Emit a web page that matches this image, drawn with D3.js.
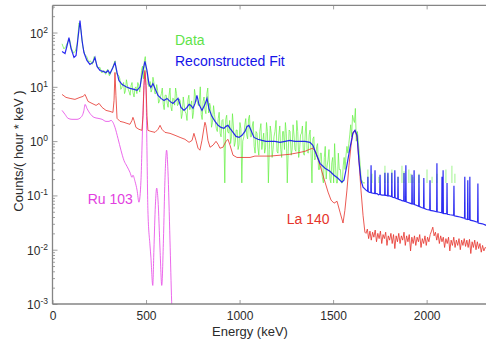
<!DOCTYPE html>
<html><head><meta charset="utf-8">
<script src="https://cdn.jsdelivr.net/npm/d3@7/dist/d3.min.js"></script>
<style>
body{margin:0;background:#fff;}
svg{display:block;font-family:"Liberation Sans",Arial,Helvetica,sans-serif;}
</style>
</head><body>
<svg id="chart" width="486" height="344"></svg>
<script>
// ---------------- DATA ----------------
// Measured spectrum (Data), energies in keV, counts/(hour*keV)
const dataE = [51,61,71,81,91,102,112,122,132,142,
152,162,172,183,193,203,213,223,233,243,
253,264,274,284,294,304,314,324,334,344,
355,365,375,385,395,405,415,425,436,446,
456,466,476,486,496,506,517,527,537,547,
557,567,577,587,597,608,618,628,638,648,
658,668,678,689,699,709,719,729,739,749,
759,770,780,790,800,810,820,830,840,850,
861,871,881,891,901,911,921,931,942,952,
962,972,982,992,1002,1012,1023,1033,1043,1053,
1063,1073,1083,1093,1103,1114,1124,1134,1144,1154,
1164,1174,1184,1195,1205,1215,1225,1235,1245,1255,
1265,1276,1286,1296,1306,1316,1326,1336,1346,1356,
1367,1377,1387,1397,1407,1417,1427,1437,1448,1458,
1468,1478,1488,1498,1508,1518,1528,1539,1549,1559,
1569,1579,1589,1599,1609,1619,1630,1640,1650,1660,
1670];
const dataV = [62,50,55,66,75,50,42,45,62,150,
110,55,40,36,29,30,26,36,28,22,
23,18,20,17,21,16,19,24,30,17,
16,9,11,7.5,13.5,9,7,12,6.5,10,
12,8,20,14,36,18,10,8,15,7.5,
11,5,6.5,9.5,3.8,7,4.2,9.5,3.6,6,
9.5,4.5,6,2.6,6.5,3.5,2.4,7,4.5,2.6,
9,5.5,4.5,10,2.5,6.5,3.2,9.5,5,1.8,
4.5,2.2,1.5,3.4,1.2,2.5,0.17,3.0,1.4,0.9,
3.2,0.8,1.6,0.7,2.2,0.17,1.2,2.6,1.1,3.0,
1.2,2.3,0.6,1.4,0.55,2.1,1.0,0.6,2.2,0.17,
1.9,0.5,1.2,2.4,0.6,1.9,0.5,1.5,2.2,0.17,
1.6,0.55,2.0,0.7,2.4,0.5,1.3,1.9,0.55,2.3,
0.6,1.6,0.17,1.2,0.5,0.9,0.3,0.6,0.17,0.8,
0.35,0.7,0.17,0.5,0.9,0.17,0.6,0.3,0.17,0.5,
0.55,0.6,1.3,1.2,2.5,4.0,1.5,0.6,0.2,0.17,
0.17];
// Intermediate data bins (355-1625 keV)
const dataE2 = [360,370,380,390,400,410,420,430,441,451,
461,471,481,491,501,511,522,532,542,552,
562,572,582,592,602,613,623,633,643,653,
663,673,683,694,704,714,724,734,744,754,
764,775,785,795,805,815,825,835,845,855,
866,876,886,896,906,916,926,936,947,957,
967,977,987,997,1007,1017,1028,1038,1048,1058,
1068,1078,1088,1098,1108,1119,1129,1139,1149,1159,
1169,1179,1189,1200,1210,1220,1230,1240,1250,1260,
1270,1281,1291,1301,1311,1321,1331,1341,1351,1361,
1372,1382,1392,1402,1412,1422,1432,1442,1453,1463,
1473,1483,1493,1503,1513,1523,1533,1544,1554,1564,
1574,1584,1594,1604,1614,1624];
const dataV2 = [14,9.5,12,8.5,11,8,10.5,7.8,9.5,7.5,
10.5,11,24,30,20,11,12.5,9,12,7.5,
8.5,5.5,7.5,4.8,7,5,7,4.3,6.2,4.6,
7.5,4.8,5.5,3.2,4.6,3.2,5.8,3.8,5.5,3.4,
6.8,5.2,5.8,3.1,5.4,3.8,7.5,3.3,4.3,2.2,
3.1,1.7,2.6,1.4,2.4,1.3,2.5,1.5,2.4,1.2,
1.9,0.95,1.6,0.85,1.7,1.0,2.0,1.3,2.6,1.2,
1.9,0.8,1.5,0.75,1.5,0.7,1.4,0.75,1.5,0.7,
1.4,0.7,1.5,0.65,1.3,0.7,1.5,0.7,1.4,0.65,
1.5,0.7,1.3,0.65,1.5,0.7,1.4,0.6,1.4,0.65,
1.3,0.6,1.1,0.45,0.8,0.3,0.6,0.22,0.5,0.2,
0.45,0.2,0.4,0.17,0.35,0.17,0.3,0.17,0.35,0.3,
0.8,0.9,2.0,3.0,2.2,1.0];
// Isolated single-count bins of the data above 1650 keV (floor 0.17)
const dataFloor = 0.17;
const dataSpikeE = [1686,1708,1745,1777,1793,1814,1847,1868,1879,1905,1916,1927,1959,2002,2029,2055,2103,2135,2151];
const dataSpikeV = [0.30,0.25,0.22,0.35,0.25,0.30,0.22,0.35,0.28,0.30,0.25,0.22,0.25,0.30,0.22,0.25,0.30,0.35,0.25];

// Reconstructed fit
const fitE = [51,67,78,88,99,115,126,136,147,158,
168,184,200,216,227,238,254,270,286,297,
307,323,334,345,355,371,393,414,436,452,
468,478,494,505,516,526,537,548,564,580,
596,612,628,644,660,671,687,703,719,730,
740,751,762,772,783,799,815,826,836,852,
869,885,901,917,927,938,949,965,981,997,
1013,1029,1040,1050,1061,1077,1098,1120,1141,1163,
1189,1216,1243,1269,1296,1323,1350,1376,1392,1408,
1430,1457,1483,1505,1526,1547,1558,1574,1590,1606,
1617,1628,1638,1649,1660,
1676,1684.5,1686,1687.5,1694,1701.5,1703,1704.5,1712,1722.5,
1724,1725.5,1735,1742,1749.5,1751,1752.5,1762,1775.5,1777,
1778.5,1785,1791.5,1793,1794.5,1802,1812.5,1814,1815.5,1820,
1828.5,1830,1831.5,1838,1845.5,1847,1848.5,1860,1868,1877.5,
1879,1880.5,1887.5,1889,1890.5,1900,1910,1920.5,1922,1923.5,
1931.5,1933,1934.5,1945,1957.5,1959,1960.5,1972,1983.5,1985,
1986.5,2000,2016.5,2018,2019.5,2035,2053.5,2055,2056.5,2068,
2080.5,2082,2083.5,2086.5,2088,2089.5,2098,2107.5,2109,2110.5,
2125,2144.5,2146,2147.5,2162,2178,2190,2202.5,2204,2205.5,
2218.5,2220,2221.5,2229.5,2231,2232.5,2250,2272.5,2274,2275.5,
2298,2320];
const fitV = [44.8,41.1,57.7,80.9,50.8,34.7,37.7,77.5,166,71.3,
42.9,30.6,25.8,28.1,34.7,23.7,20,19.2,18.4,20,
17.6,22.7,28.1,18.4,13.1,11.1,10,9.35,8.96,8.59,
10,16.2,29.3,20,11.1,9.75,11.5,9.35,6.95,6.12,
5.62,6.12,5.39,4.95,5.62,6.12,4.18,3.68,4.18,4.75,
4.55,4.01,4.95,6.95,4.75,3.68,4.75,6.12,4.01,2.86,
2.31,1.95,1.79,1.72,1.87,1.95,1.72,1.45,1.22,1.17,
1.28,1.51,1.87,1.95,1.58,1.17,1.08,1.03,0.99,0.99,
0.99,0.95,0.99,1.03,0.99,0.99,0.99,0.95,0.84,0.60,
0.39,0.316,0.279,0.235,0.207,0.175,0.19,0.36,0.74,1.39,
1.58,1.28,0.44,0.19,0.142,
0.125,0.119,0.22,0.118,0.114,0.113,0.36,0.112,0.11,0.108,
0.29,0.108,0.108,0.103,0.105,0.24,0.104,0.101,0.101,0.26,
0.100,0.1,0.098,0.26,0.098,0.098,0.095,0.26,0.095,0.092,
0.091,0.29,0.09,0.088,0.086,0.22,0.085,0.083,0.08,0.079,
0.26,0.078,0.077,0.36,0.076,0.074,0.072,0.070,0.24,0.070,
0.069,0.29,0.068,0.066,0.063,0.24,0.063,0.06,0.058,0.21,
0.058,0.055,0.054,0.19,0.053,0.052,0.05,0.39,0.05,0.049,
0.048,0.22,0.048,0.047,0.29,0.047,0.046,0.046,0.17,0.045,
0.044,0.043,0.15,0.042,0.041,0.04,0.039,0.038,0.22,0.037,
0.036,0.19,0.036,0.036,0.22,0.035,0.034,0.032,0.165,0.031,
0.03,0.028];

// La 140 component
const laE = [51,72,94,120,147,163,174,190,211,233,
249,265,286,307,323,329,334,339,345,361,
382,398,414,425,430,436,446,462,478,484,
489,494,500,505,510,526,548,564,575,585,
601,628,655,682,708,730,746,756,767,778,
788,799,810,815,820,831,842,858,874,885,
895,911,927,938,949,965,986,1013,1056,1082,
1109,1163,1216,1269,1323,1350,1376,1392,1408,1430,
1457,1473,1489,1505,1521,1537,1553,1563,1574,1585,
1596,1606,1617,1628,1638,1649,1660,1670,
1676,1683,1690,1697,1704,1711,1718,1725,1732,1739,
1746,1753,1760,1767,1774,1781,1788,1795,1802,1809,
1816,1823,1830,1837,1844,1851,1858,1865,1872,1879,
1886,1893,1900,1907,1914,1921,1928,1935,1942,1949,
1956,1963,1970,1977,1984,1991,1998,2005,2012,2019,
2026,2033,2040,2047,2054,2061,2068,2075,2082,2089,
2096,2103,2110,2117,2124,2131,2138,2145,2152,2159,
2166,2173,2180,2187,2194,2201,2208,2215,2222,2229,
2236,2243,2250,2257,2264,2271,2278,2285,2292,2299,
2306,2313,2320];
const laV = [7.24,6.39,6.12,5.87,6.39,6.66,7.24,5.39,4.95,4.55,
4.95,4.18,3.68,3.53,3.38,5.62,18.4,6.95,2.63,2.31,
2.22,2.12,2.04,2.41,2.74,2.41,1.79,1.65,1.58,2.98,
10.6,20,10.6,2.98,1.58,1.51,1.45,1.65,1.95,1.65,
1.45,1.39,1.28,1.17,1.08,0.95,1.03,1.39,1.03,0.74,
0.68,1.03,1.79,2.22,1.95,1.03,0.77,0.84,0.99,0.873,
0.74,0.77,0.99,1.08,0.84,0.55,0.50,0.50,0.50,0.53,
0.53,0.53,0.55,0.572,0.62,0.65,0.71,0.74,0.62,0.36,
0.175,0.115,0.082,0.072,0.078,0.049,0.031,0.053,0.125,0.36,
0.84,1.45,1.58,1.17,0.44,0.125,0.043,0.021,
0.02,0.024,0.016,0.022,0.015,0.021,0.017,0.023,0.014,0.02,
0.016,0.022,0.013,0.019,0.016,0.021,0.012,0.018,0.015,0.02,
0.013,0.019,0.0105,0.018,0.014,0.02,0.013,0.018,0.015,0.021,
0.012,0.018,0.014,0.019,0.0095,0.017,0.013,0.018,0.012,0.017,
0.014,0.019,0.011,0.016,0.013,0.018,0.012,0.017,0.014,0.019,
0.022,0.026,0.018,0.021,0.015,0.02,0.013,0.018,0.014,0.017,
0.011,0.016,0.013,0.017,0.0095,0.015,0.012,0.017,0.011,0.015,
0.012,0.016,0.01,0.015,0.012,0.016,0.0115,0.015,0.011,0.0155,
0.0085,0.014,0.011,0.015,0.01,0.014,0.0105,0.013,0.009,0.012,
0.0095,0.011,0.0105];

// Ru 103 component
const ruE = [51,67,83,104,131,152,168,174,184,200,
222,243,265,286,302,313,323,334,350,366,
382,398,414,425,430,441,452,462,473,478,
484,489,494,500,505,510,521,526,536,542,
550,557,564,575,584,593,601,610,617,628,
637,644];
const ruV = [3.68,3.11,2.63,2.52,2.52,2.74,3.68,4.75,4.01,3.24,
2.74,2.63,2.52,2.31,2.31,2.41,2.22,1.79,1.12,0.68,
0.44,0.344,0.267,0.216,0.235,0.182,0.125,0.075,0.19,0.68,
3.68,10.6,18.4,8.59,0.68,0.053,0.0122,0.0073,0.0022,0.0098,
0.066,0.136,0.082,0.0098,0.0022,0.015,0.19,0.68,0.29,0.015,
0.0011,0.0003];

const xTickValues = [0,500,1000,1500,2000];
const yTickExponents = [-3,-2,-1,0,1,2];
const seriesLabels = [
  {text:"Data", color:"#5fe34a"},
  {text:"Reconstructed Fit", color:"#1414e8"},
  {text:"Ru 103", color:"#e23fe0"},
  {text:"La 140", color:"#e6352b"}
];

// ---------------- CHART ----------------
const W = 486, H = 344;
const pL = 52.5, pR = 486.5, pT = 5.4, pB = 304;
const svg = d3.select("#chart");
const x = d3.scaleLinear().domain([0, 2320]).range([pL, pR]);
const y = d3.scaleLog().domain([1e-3, 316]).range([pB, pT]);

svg.append("defs").append("clipPath").attr("id","plotclip")
  .append("rect").attr("x",pL).attr("y",pT).attr("width",pR-pL).attr("height",pB-pT);

const zip = (a,b) => a.map((e,i)=>[e,b[i]]);
const dataPts = zip(dataE, dataV).concat(zip(dataE2, dataV2)).sort((a,b)=>a[0]-b[0]);
const fitPts = zip(fitE, fitV);
const laPts = zip(laE, laV);
const ruPts = zip(ruE, ruV);

const lineLin = d3.line().x(d=>x(d[0])).y(d=>y(d[1]));
const lineSmooth = d3.line().x(d=>x(d[0])).y(d=>y(d[1])).curve(d3.curveMonotoneX);

const plot = svg.append("g").attr("clip-path","url(#plotclip)");

// Data (green)
plot.append("path").datum(dataPts).attr("d", lineLin)
  .attr("fill","none").attr("stroke","#62f040").attr("stroke-width",1.0).attr("stroke-opacity",0.7)
  .attr("stroke-linejoin","bevel");
plot.selectAll("line.dspike").data(zip(dataSpikeE, dataSpikeV)).join("line")
  .attr("class","dspike")
  .attr("x1",d=>x(d[0])).attr("x2",d=>x(d[0]))
  .attr("y1",y(dataFloor)).attr("y2",d=>y(d[1]))
  .attr("stroke","#7cf060").attr("stroke-width",1.2).attr("stroke-opacity",0.6);

// Ru 103 (magenta)
plot.append("path").datum(ruPts).attr("d", lineSmooth)
  .attr("fill","none").attr("stroke","#e645e6").attr("stroke-width",0.9).attr("stroke-opacity",0.9);

// La 140 (red)
plot.append("path").datum(laPts).attr("d", lineLin)
  .attr("fill","none").attr("stroke","#e6332b").attr("stroke-width",0.9).attr("stroke-opacity",0.9);

// Reconstructed fit (blue)
plot.append("path").datum(fitPts).attr("d", lineLin)
  .attr("fill","none").attr("stroke","#1515f0").attr("stroke-width",1.2).attr("stroke-opacity",0.9);

// ---------------- AXES ----------------
const axisColor = "#858585";
const yMajor = yTickExponents.map(e=>Math.pow(10,e));
const yMinor = [];
yTickExponents.forEach(e=>{ for(let k=2;k<=9;k++){ const v=k*Math.pow(10,e); if(v<316) yMinor.push(v);} });

const gyMinor = svg.append("g").attr("transform",`translate(${pL},0)`)
  .call(d3.axisLeft(y).tickValues(yMinor).tickSize(-2.5).tickFormat(""));
const gyMajor = svg.append("g").attr("transform",`translate(${pL},0)`)
  .call(d3.axisLeft(y).tickValues(yMajor).tickSize(-5).tickFormat(""));
const gxTop = svg.append("g").attr("transform",`translate(0,${pT})`)
  .call(d3.axisTop(x).tickValues(xTickValues).tickSize(-4).tickFormat(""));
const gxBot = svg.append("g").attr("transform",`translate(0,${pB})`)
  .call(d3.axisBottom(x).tickValues(xTickValues).tickSize(-4).tickPadding(7).tickFormat(d3.format("d")));

[gyMinor, gyMajor, gxTop, gxBot].forEach(g=>{
  g.select(".domain").remove();
  g.selectAll(".tick line").attr("stroke","#a0a0a0").attr("stroke-width",1);
});
gxBot.selectAll(".tick text").attr("font-size",12).attr("fill","#2b2b2b")
  .attr("font-family",'"Liberation Sans",Arial,sans-serif');

// Y tick labels with superscripts
const ylab = svg.append("g");
yTickExponents.forEach(e=>{
  const t = ylab.append("text").attr("x",48).attr("y",y(Math.pow(10,e))+5)
    .attr("text-anchor","end").attr("font-size",12).attr("fill","#2b2b2b");
  t.append("tspan").text("10");
  t.append("tspan").attr("dy",-5).attr("font-size",8.5).text(String(e));
});

// Frame lines (left, top, bottom)
svg.append("line").attr("x1",pL).attr("x2",pL).attr("y1",pT).attr("y2",pB)
  .attr("stroke",axisColor).attr("stroke-width",1.3);
svg.append("line").attr("x1",pL).attr("x2",W).attr("y1",pT).attr("y2",pT)
  .attr("stroke",axisColor).attr("stroke-width",1.3);
svg.append("line").attr("x1",pL).attr("x2",W).attr("y1",pB).attr("y2",pB)
  .attr("stroke",axisColor).attr("stroke-width",1.3);

// Axis titles
svg.append("text").attr("x",250).attr("y",336).attr("text-anchor","middle")
  .attr("font-size",13).attr("fill","#2b2b2b").text("Energy (keV)");
svg.append("text").attr("transform","translate(23,151) rotate(-90)").attr("text-anchor","middle")
  .attr("font-size",13).attr("fill","#2b2b2b").text("Counts/( hour * keV )");

// Series labels
const labelPos = [[175,45],[175,66],[87.7,204],[286.7,224]];
seriesLabels.forEach((s,i)=>{
  svg.append("text").attr("x",labelPos[i][0]).attr("y",labelPos[i][1])
    .attr("font-size",14).attr("fill",s.color).text(s.text);
});
</script>
</body></html>
